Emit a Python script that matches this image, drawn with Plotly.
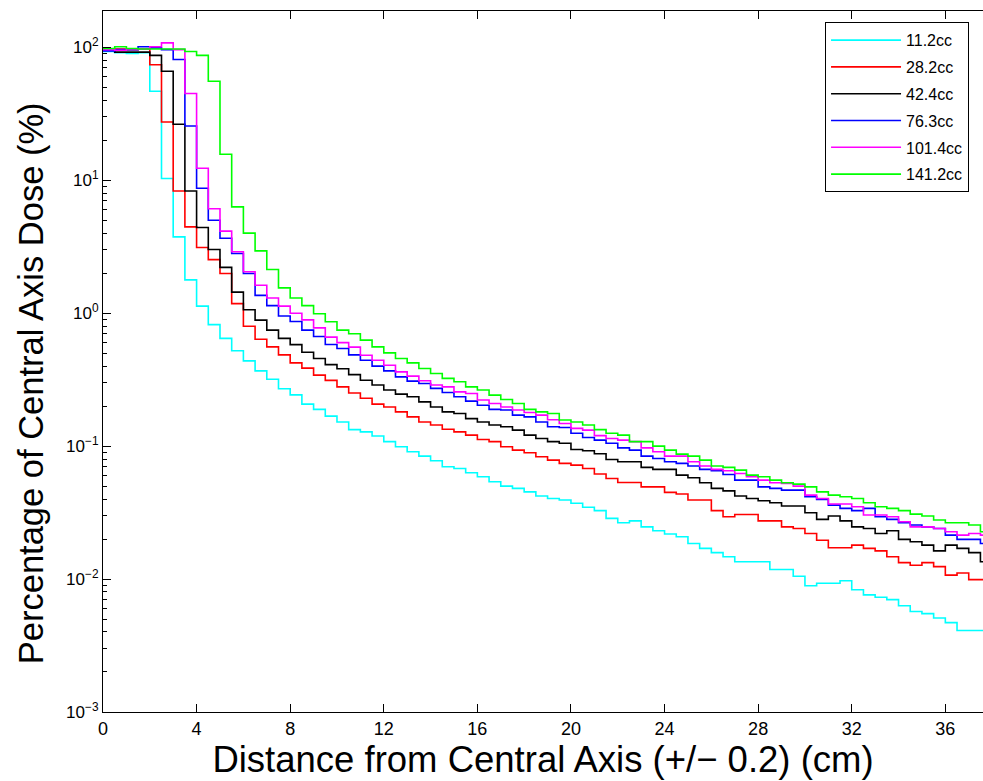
import plotly.graph_objects as go

# ---------------- data ----------------
bin_width_cm = 0.5
series_names = ["11.2cc", "28.2cc", "42.4cc", "76.3cc", "101.4cc", "141.2cc"]
series_colors = ["#00FFFF", "#FF0000", "#000000", "#0000FF", "#FF00FF", "#00FF00"]

dose_11_2 = [93, 91, 90, 91, 46.7, 10.3, 3.75, 1.78, 1.13, 0.82,
             0.646, 0.521, 0.438, 0.368, 0.318, 0.27, 0.243, 0.207, 0.189, 0.168,
             0.152, 0.133, 0.128, 0.119, 0.108, 0.099, 0.0906, 0.0841, 0.0776, 0.0699,
             0.0679, 0.063, 0.0588, 0.0539, 0.050, 0.0481, 0.0453, 0.0421, 0.0404, 0.0393,
             0.0372, 0.0347, 0.0327, 0.0286, 0.0265, 0.0274, 0.0247, 0.0231, 0.0218, 0.0208,
             0.0185, 0.0170, 0.0158, 0.0147, 0.0135, 0.0135, 0.0135, 0.0118, 0.0118, 0.0105,
             0.0089, 0.0093, 0.0093, 0.0097, 0.0083, 0.0076, 0.0073, 0.0070, 0.0063, 0.0057,
             0.0055, 0.0051, 0.0047, 0.0041, 0.0041, 0.0041]

dose_28_2 = [97, 97, 96, 97, 74, 27.4, 8.3, 4.46, 3.12, 2.53,
             1.99, 1.18, 0.798, 0.637, 0.558, 0.486, 0.423, 0.386, 0.342, 0.312,
             0.279, 0.251, 0.229, 0.207, 0.197, 0.181, 0.166, 0.152, 0.144, 0.134,
             0.128, 0.121, 0.112, 0.108, 0.0988, 0.0933, 0.0891, 0.0832, 0.0785, 0.0741,
             0.072, 0.0679, 0.0617, 0.0571, 0.0533, 0.0533, 0.0494, 0.0494, 0.0449, 0.0436,
             0.0393, 0.0393, 0.0327, 0.0294, 0.0306, 0.0306, 0.0274, 0.0274, 0.0247, 0.024,
             0.022, 0.0196, 0.0172, 0.0172, 0.018, 0.017, 0.0163, 0.0147, 0.0133, 0.0127,
             0.0133, 0.0124, 0.0107, 0.0111, 0.0099, 0.0099]

dose_42_4 = [96, 92, 92, 92, 87, 66, 26.4, 8.3, 4.41, 3.01,
             2.21, 1.44, 1.06, 0.886, 0.745, 0.646, 0.58, 0.508, 0.456, 0.41,
             0.382, 0.345, 0.313, 0.288, 0.264, 0.246, 0.235, 0.215, 0.197, 0.181,
             0.176, 0.161, 0.152, 0.144, 0.14, 0.132, 0.121, 0.114, 0.108, 0.105,
             0.0944, 0.0923, 0.0876, 0.0794, 0.0762, 0.0762, 0.0692, 0.0668, 0.0668, 0.0605,
             0.0578, 0.053, 0.0481, 0.0461, 0.0421, 0.0404, 0.0388, 0.0375, 0.0354, 0.0354,
             0.0315, 0.0281, 0.0298, 0.0274, 0.0247, 0.024, 0.022, 0.0231, 0.0199, 0.0191,
             0.018, 0.0163, 0.018, 0.017, 0.0158, 0.0135]

dose_76_3 = [94, 96, 96, 101, 99, 96, 81, 25.6, 8.7, 5.0,
             3.66, 2.81, 1.99, 1.36, 1.14, 0.952, 0.866, 0.745, 0.668, 0.582,
             0.543, 0.486, 0.443, 0.40, 0.368, 0.332, 0.308, 0.296, 0.272, 0.253,
             0.235, 0.218, 0.203, 0.189, 0.187, 0.171, 0.166, 0.152, 0.14, 0.138,
             0.125, 0.116, 0.111, 0.105, 0.097, 0.0933, 0.0841, 0.0807, 0.0762, 0.0741,
             0.0708, 0.0668, 0.0652, 0.0612, 0.0555, 0.0555, 0.0494, 0.0481, 0.0467, 0.0467,
             0.0416, 0.0397, 0.036, 0.034, 0.0327, 0.034, 0.0294, 0.0281, 0.0265, 0.0255,
             0.0247, 0.024, 0.0214, 0.0199, 0.0199, 0.0185]

dose_101_4 = [96, 95, 97, 97, 101, 108, 96, 44.9, 12.3, 6.1,
              4.14, 2.9, 2.05, 1.62, 1.30, 1.13, 1.0, 0.89, 0.775, 0.66,
              0.60, 0.555, 0.483, 0.443, 0.406, 0.362, 0.336, 0.31, 0.288, 0.279,
              0.256, 0.249, 0.222, 0.209, 0.197, 0.187, 0.179, 0.171, 0.158, 0.148,
              0.136, 0.132, 0.12, 0.114, 0.111, 0.108, 0.097, 0.0906, 0.0841, 0.0841,
              0.0762, 0.0708, 0.0668, 0.0652, 0.0623, 0.0588, 0.0555, 0.053, 0.0524, 0.05,
              0.0428, 0.0404, 0.0367, 0.0367, 0.035, 0.0303, 0.0303, 0.0294, 0.027, 0.0247,
              0.0247, 0.024, 0.0227, 0.0214, 0.022, 0.0214]

dose_141_2 = [98, 101, 98, 97, 97, 97, 97, 93, 87, 55.5,
              15.7, 6.3, 4.0, 2.94, 2.13, 1.55, 1.30, 1.14, 0.99, 0.861,
              0.745, 0.70, 0.627, 0.558, 0.503, 0.456, 0.423, 0.384, 0.352, 0.323,
              0.305, 0.279, 0.264, 0.242, 0.224, 0.209, 0.189, 0.181, 0.176, 0.157,
              0.152, 0.144, 0.133, 0.125, 0.121, 0.108, 0.108, 0.1, 0.0933, 0.0871,
              0.0841, 0.0785, 0.0708, 0.0692, 0.066, 0.0605, 0.0588, 0.0555, 0.053, 0.0518,
              0.0494, 0.0453, 0.0428, 0.0416, 0.0404, 0.0375, 0.035, 0.034, 0.0327, 0.0308,
              0.0298, 0.0278, 0.0265, 0.0265, 0.0255, 0.0227]

all_series = [dose_11_2, dose_28_2, dose_42_4, dose_76_3, dose_101_4, dose_141_2]

x_ticks = [0, 4, 8, 12, 16, 20, 24, 28, 32, 36]
y_tick_vals = [1e-3, 1e-2, 1e-1, 1e0, 1e1, 1e2]
y_tick_text = ["10<sup>\u22123</sup>", "10<sup>\u22122</sup>", "10<sup>\u22121</sup>",
               "10<sup>0</sup>", "10<sup>1</sup>", "10<sup>2</sup>"]
y_minor_vals = [k * 10.0 ** e for e in range(-3, 3) for k in range(2, 10)]

x_title = "Distance from Central Axis (+/\u2212 0.2) (cm)"
y_title = "Percentage of Central Axis Dose (%)"

# ---------------- figure ----------------
fig = go.Figure()
for name, color, vals in zip(series_names, series_colors, all_series):
    xs = [i * bin_width_cm for i in range(len(vals) + 1)]
    ys = list(vals) + [vals[-1]]
    fig.add_trace(go.Scatter(
        x=xs, y=ys, name=name, mode="lines",
        line=dict(color=color, width=1.6, shape="hv"),
        legendgroup=name,
    ))

fig.update_layout(
    width=983, height=781,
    margin=dict(l=103, r=0, t=11, b=69),
    paper_bgcolor="white", plot_bgcolor="white",
    font=dict(family="Liberation Sans, Arial, sans-serif", color="black"),
    showlegend=True,
    legend=dict(
        x=0.8205, y=0.984, xanchor="left", yanchor="top",
        bgcolor="white", bordercolor="black", borderwidth=1,
        font=dict(size=16, family="Liberation Sans, Arial, sans-serif"),
        itemwidth=70, tracegroupgap=3,
        entrywidth=130, entrywidthmode="pixels",
    ),
    xaxis=dict(
        range=[0, 37.61], tickvals=x_ticks, ticks="inside", ticklen=8,
        tickcolor="black", showline=True, linecolor="black", linewidth=1.2,
        mirror="ticks", showgrid=False, zeroline=False,
        tickfont=dict(size=18),
        title=dict(text=x_title, font=dict(size=36.5), standoff=3),
    ),
    yaxis=dict(
        type="log", range=[-3, 2.273], tickvals=y_tick_vals, ticktext=y_tick_text,
        ticks="inside", ticklen=8, tickcolor="black",
        showline=True, linecolor="black", linewidth=1.2, mirror=False,
        showgrid=False, zeroline=False,
        minor=dict(tickvals=y_minor_vals, ticks="inside", ticklen=4, tickcolor="black", showgrid=False),
        tickfont=dict(size=17),
    ),
    annotations=[dict(
        text=y_title, textangle=-90, showarrow=False,
        xref="paper", yref="paper", x=-0.0818, y=0.469,
        xanchor="center", yanchor="middle",
        font=dict(size=34.5),
    )],
)

fig.write_html("out.html")
